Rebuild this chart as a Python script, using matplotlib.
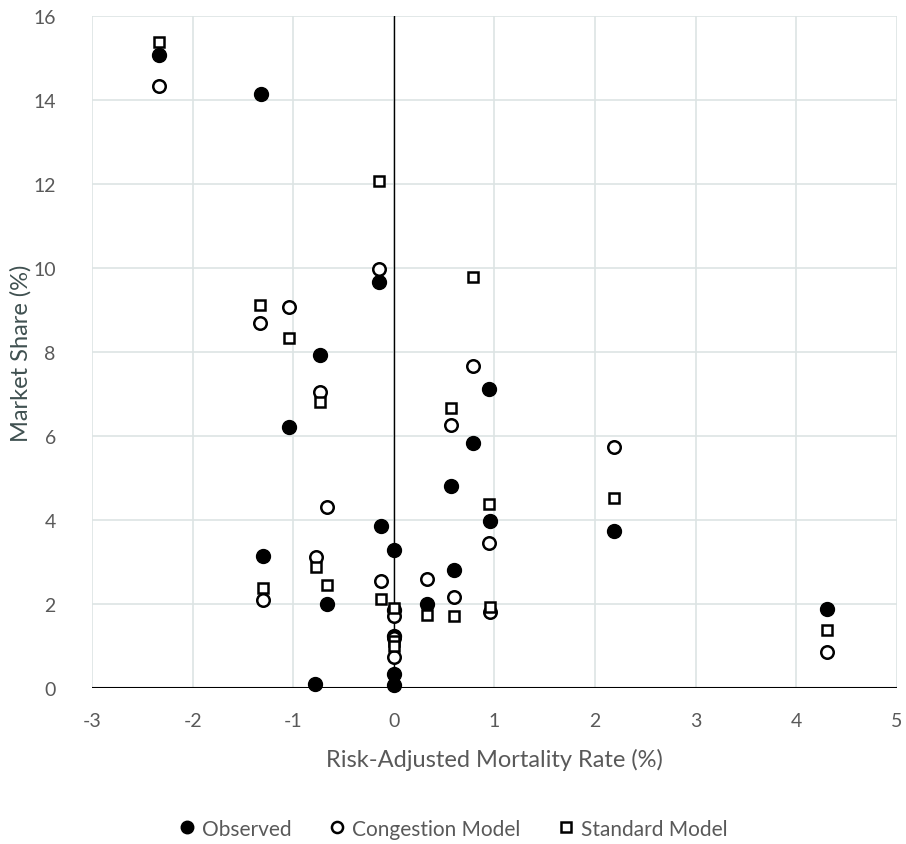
import matplotlib.pyplot as plt
from matplotlib.lines import Line2D

plt.rcParams['font.family'] = ['Lato', 'DejaVu Sans']
plt.rcParams['axes.unicode_minus'] = False

obs_x = [-2.33, -1.32, -0.15, -0.73, 0.945, -1.04, 0.79, 0.57, -0.13, 0.955,
         -1.30, 0.0, 0.60, -0.66, 0.33, 0.0, 0.0, 0.0, 0.0, -0.78, 2.19, 4.30]
obs_y = [15.08, 14.14, 9.67, 7.94, 7.12, 6.21, 5.84, 4.80, 3.86, 3.97,
         3.15, 3.29, 2.82, 1.99, 2.01, 1.86, 1.25, 0.33, 0.07, 0.10, 3.73, 1.87]

cong_x = [-2.33, -0.15, -1.04, -1.33, 0.79, -0.73, 0.57, -0.66, 0.945, -0.776,
          0.33, -0.13, -1.30, 0.60, 0.955, 0.0, 0.0, 0.0, 2.19, 4.30]
cong_y = [14.33, 9.98, 9.07, 8.68, 7.67, 7.04, 6.26, 4.31, 3.45, 3.11,
          2.60, 2.55, 2.10, 2.17, 1.80, 1.72, 1.20, 0.74, 5.75, 0.85]

std_x = [-2.33, -0.15, 0.79, -1.33, -1.04, -0.73, 0.57, 0.945, -0.776, -0.66,
         -1.30, -0.13, 0.33, 0.60, 0.955, 0.0, 0.0, 0.0, 2.19, 4.30]
std_y = [15.37, 12.07, 9.78, 9.12, 8.34, 6.80, 6.66, 4.37, 2.87, 2.46,
         2.37, 2.12, 1.74, 1.72, 1.94, 1.90, 1.13, 1.01, 4.53, 1.39]

fig = plt.figure(figsize=(9.06, 8.45), dpi=100)
ax = fig.add_axes([0.1015, 0.1846, 0.8885, 0.7953])

ax.set_xlim(-3, 5)
ax.set_ylim(0, 16)
ax.set_xticks(range(-3, 6))
ax.set_yticks(range(0, 17, 2))
ax.grid(True, color='#dde4e4', linewidth=1.2)
ax.set_axisbelow(True)
for s in ax.spines.values():
    s.set_visible(False)
ax.axvline(0, color='black', linewidth=1.0, zorder=1)
ax.axhline(0, color='black', linewidth=1.5, zorder=1)
ax.tick_params(length=0, labelsize=14, labelcolor='#595959')
ax.tick_params(axis='x', pad=17)
ax.tick_params(axis='y', pad=26)

ax.plot(obs_x, obs_y, 'o', ms=10, mfc='black', mec='black', zorder=3, clip_on=False)
ax.plot(cong_x, cong_y, 'o', ms=9, mfc='white', mec='black', mew=1.8, zorder=3, clip_on=False)
ax.plot(std_x, std_y, 's', ms=7.5, mfc='white', mec='black', mew=1.8, zorder=3, clip_on=False)

ax.set_xlabel('Risk-Adjusted Mortality Rate (%)', fontsize=17, color='#595959', labelpad=14)
ax.set_ylabel('Market Share (%)', fontsize=17, color='#3f5050')
ax.yaxis.set_label_coords(-0.075, 0.5)

handles = [
    Line2D([], [], marker='o', ls='', ms=9, mfc='black', mec='black'),
    Line2D([], [], marker='o', ls='', ms=8, mfc='white', mec='black', mew=1.8),
    Line2D([], [], marker='s', ls='', ms=7, mfc='white', mec='black', mew=1.8),
]
fig.legend(handles, ['Observed', 'Congestion Model', 'Standard Model'],
           loc='center', bbox_to_anchor=(0.5, 0.018), ncol=3, frameon=False,
           fontsize=15, labelcolor='#595959', handlelength=0.8,
           handletextpad=0.3, columnspacing=1.8)

fig.savefig('out.png', dpi=100)
